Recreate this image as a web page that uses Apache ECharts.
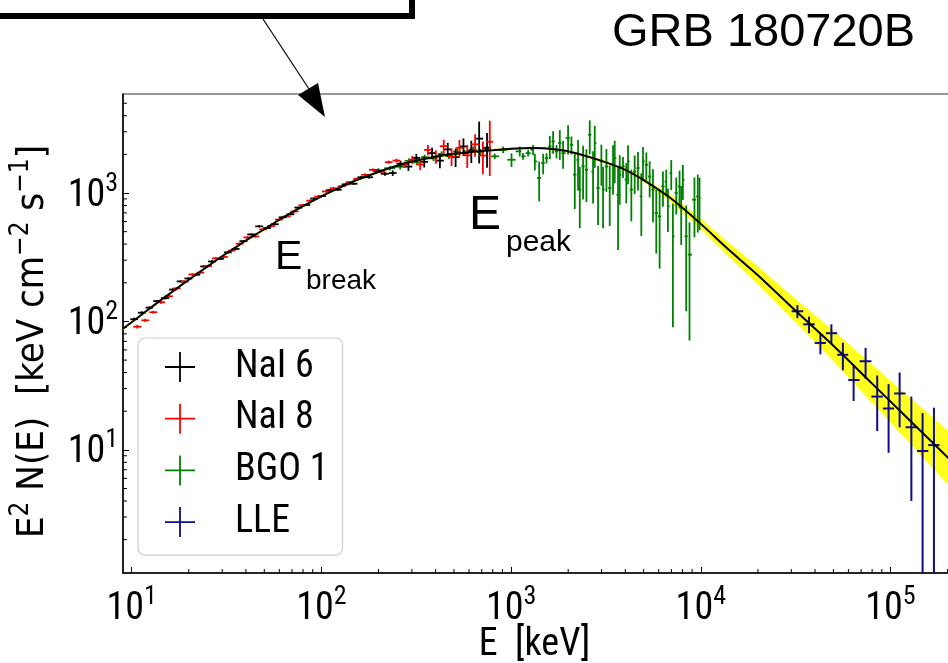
<!DOCTYPE html>
<html>
<head>
<meta charset="utf-8">
<script src="https://cdn.jsdelivr.net/npm/echarts@6.0.0/dist/echarts.min.js"></script>
<style>
  html, body { margin: 0; padding: 0; background: #ffffff; }
  #chart { width: 948px; height: 663px; }
</style>
</head>
<body>
<div id="chart"></div>
<script>
// ---- spectral data: E^2 N(E) [keV cm^-2 s^-1] versus E [keV] ----

// Axis bounds
const X_MIN = 9, X_MAX = 2.5e5;
const Y_MIN = 1.1, Y_MAX = 5900;

// Tick decades and minor-tick multipliers
const xDecades = [1, 10, 100, 1000, 10000, 100000];
const yDecades = [1, 10, 100, 1000];
const minorSteps = [2, 3, 4, 5, 6, 7, 8, 9];

// NaI 6
const nai6Energy = [10.3, 11.3, 12.4, 13.6, 15.0, 16.5, 18.1, 19.9, 21.9, 24.1, 26.5, 29.2, 32.1, 35.3, 38.8, 42.7,
  47.0, 51.7, 56.8, 62.5, 68.7, 75.6, 83.2, 91.5, 100.6, 110.6, 121.9, 134.3, 147.8, 162.4, 178.4, 196.3, 216.2,
  237.7, 261.2, 287.6, 316.6, 348.3, 383.1, 421.5, 463.6, 510, 560.9, 616.9, 678.7, 746.7];
const nai6Flux = [104, 117, 128, 144, 152, 177, 205, 216, 231, 268, 293, 307, 345, 367, 422, 476,
  550, 534, 571, 647, 683, 770, 807, 905, 946, 1052, 1061, 1168, 1181, 1326, 1327, 1488, 1411,
  1430, 1693, 1605, 1875, 1749, 2046, 1787, 2185, 1902, 2303, 2131, 2650, 2250];
const nai6Err = [3, 3, 3, 3, 4, 4, 4, 5, 5, 5, 6, 6, 7, 7, 8, 9,
  10, 10, 11, 12, 13, 14, 15, 17, 18, 20, 21, 23, 25, 28, 32, 38, 50,
  70, 90, 120, 140, 170, 200, 230, 270, 310, 360, 420, 950, 680];

// NaI 8
const nai8Energy = [10.7, 11.8, 13.0, 14.3, 15.7, 17.3, 19.0, 20.9, 23.0, 25.3, 27.8, 30.6, 33.7, 37.0, 40.7, 44.8,
  49.3, 54.2, 59.6, 65.6, 72.2, 79.4, 87.3, 96.0, 105.6, 116.3, 127.9, 140.4, 154.3, 169.8, 186.8, 205.8,
  226.3, 248.7, 273.8, 301.2, 331.7, 364.6, 401.1, 441.5, 485.5, 533.9, 587.3, 645.8, 710.2, 772.0];
const nai8Flux = [91, 102, 118, 141, 157, 181, 204, 232, 240, 270, 310, 318, 356, 403, 451, 459,
  521, 552, 621, 657, 719, 803, 872, 937, 1028, 1089, 1130, 1215, 1289, 1387, 1515, 1464,
  1738, 1789, 1657, 1815, 1666, 2165, 1919, 2316, 1924, 2246, 1966, 2393, 1958, 2507];
const nai8Err = [3, 3, 3, 4, 4, 4, 5, 5, 5, 6, 6, 7, 7, 8, 9, 9,
  10, 11, 12, 13, 14, 15, 17, 18, 20, 22, 24, 26, 29, 32, 36, 40,
  48, 60, 90, 130, 160, 200, 230, 280, 300, 340, 400, 480, 560, 1150];

// BGO 1
const bgoEnergy = [200, 230, 260, 290, 320, 350, 390, 430, 470, 520, 570, 630, 690, 750,
  820, 908, 1005, 1111, 1156, 1230, 1306, 1334, 1406, 1476, 1538, 1600, 1665, 1735, 1806, 1880,
  1997, 2080, 2166, 2254, 2302, 2396, 2495, 2598, 2704, 2760, 2873, 2992, 3054, 3180, 3311, 3446,
  3517, 3662, 3738, 3890, 4050, 4134, 4304, 4481, 4665, 4857, 4958, 5162, 5375, 5596, 5826, 6066,
  6316, 6575, 6710, 6985, 7128, 7421, 7726, 7883, 8044, 8374, 8719, 9259, 9641, 9848];
const bgoFlux = [1500, 1560, 1600, 1780, 1730, 1900, 1860, 2010, 1940, 2100, 2050, 2180, 2080, 2200,
  1930, 2170, 1815, 2110, 1930, 2045, 2170, 1760, 1310, 1710, 1870, 2305, 2520, 2110, 2450, 2045,
  2680, 2375, 1390, 1815, 1062, 1610, 1520, 2840, 1470, 2450, 1094, 1760, 1062, 1610, 1094, 1660,
  1870, 970, 1390, 1610, 1270, 1760, 1062, 1470, 1565, 942, 1760, 1660, 1345, 1062, 698, 658,
  1125, 1230, 787, 1430, 460, 1000, 1125, 764, 1270, 460, 331, 887, 942, 914];
const bgoErr = [60, 65, 75, 80, 80, 90, 90, 100, 100, 110, 110, 120, 120, 130,
  95, 130, 220, 190, 115, 120, 190, 260, 450, 310, 170, 470, 500, 250, 640, 500,
  690, 380, 640, 770, 530, 720, 670, 840, 640, 880, 530, 620, 530, 590, 540, 690,
  680, 610, 580, 300, 440, 590, 460, 490, 520, 480, 520, 410, 420, 470, 360, 400,
  345, 290, 290, 375, 370, 320, 365, 370, 385, 340, 260, 435, 450, 400];

// LLE
const lleEnergy = [32300, 37200, 42700, 48800, 56100, 63900, 73900, 85100, 97700, 111700, 128800, 147600, 169400];
const lleFlux = [120, 95, 68, 81, 55, 35, 49, 26, 21, 27.5, 15, 9.8, 10.9];
const lleErr = [14, 14, 12.5, 14, 13.4, 11, 13.3, 12, 11.5, 12.5, 11, 9.6, 10.4];

// Best-fit model and its 1-sigma band
const modelEnergy = [9, 10, 12, 14, 16, 18, 20, 25, 30, 35, 40, 50, 60, 70, 80, 90, 100, 120, 150, 200, 250, 300,
  400, 500, 600, 700, 800, 1000, 1300, 1700, 2200, 3000, 4000, 5000, 7000, 10000, 14000, 20000, 30000,
  50000, 80000, 120000, 200000, 300000];
const modelFlux = [87.7, 98.6, 121, 144, 166, 189, 211, 267, 322, 374, 427, 522, 619, 708, 791, 867, 942, 1072, 1245,
  1459, 1629, 1758, 1919, 2018, 2080, 2123, 2153, 2213, 2239, 2188, 2042, 1778, 1514, 1259, 902, 575, 363, 229, 130,
  64.6, 32.8, 18.3, 8.77, 4.9];
const bandLow = [85.7, 96.4, 118.2, 140.7, 162.2, 184.7, 206.2, 260.9, 314.7, 365.5, 417.3, 510.1, 604.9, 691.9, 773.0,
  847.3, 920.6, 1047.6, 1216.7, 1425.8, 1591.9, 1718.0, 1875.3, 1972.1, 2032.7, 2074.6, 2104.0, 2162.6, 2188.0,
  2138.2, 1995.5, 1737.5, 1469.3, 1210.7, 847.7, 524.4, 319.8, 194.9, 105.7, 49.0, 23.2, 12.23, 5.41, 2.82];
const bandHigh = [89.7, 100.9, 123.8, 147.4, 169.9, 193.4, 215.9, 273.2, 329.5, 382.7, 437.0, 534.2, 633.4, 724.5, 809.4,
  887.2, 963.9, 1097.0, 1274.0, 1493.0, 1667.0, 1799.0, 1963.7, 2065.0, 2128.5, 2172.4, 2203.2, 2264.6, 2291.2,
  2239.0, 2089.6, 1819.4, 1560.0, 1309.2, 959.8, 630.5, 412.0, 269.1, 159.9, 85.2, 46.3, 27.4, 14.2, 8.52];

// ---- helpers ----
const MPL_FONT = "'Roboto Condensed', 'DejaVu Sans Condensed', sans-serif";
const YNAME_FONT = "'DejaVu Sans Condensed', 'Roboto Condensed', sans-serif";
const ARIAL = "'Liberation Sans', Arial, sans-serif";

// Energy bin extents from the geometric midpoints between neighbouring channels
function binEdges(E) {
  return E.map(function (e, i) {
    const prev = i > 0 ? E[i - 1] : e * e / E[i + 1];
    const next = i < E.length - 1 ? E[i + 1] : e * e / E[i - 1];
    return [Math.sqrt(prev * e), Math.sqrt(e * next)];
  });
}
function crossData(E, F, Err) {
  const bins = binEdges(E);
  return E.map(function (e, i) { return [e, F[i], Err[i], bins[i][0], bins[i][1]]; });
}

function renderCross(lineWidth) {
  return function (params, api) {
    const e = api.value(0), f = api.value(1), err = api.value(2);
    const lo = Math.max(f - err, 1e-3);
    const pLo = api.coord([e, lo]);
    const pHi = api.coord([e, f + err]);
    const pL = api.coord([api.value(3), f]);
    const pR = api.coord([api.value(4), f]);
    const style = { stroke: api.visual('color'), lineWidth: lineWidth };
    return {
      type: 'group',
      children: [
        { type: 'line', shape: { x1: pLo[0], y1: pLo[1], x2: pHi[0], y2: pHi[1] }, style: style },
        { type: 'line', shape: { x1: pL[0], y1: pL[1], x2: pR[0], y2: pR[1] }, style: style }
      ]
    };
  };
}

function crossSeries(name, color, data, lw, z) {
  return {
    name: name, type: 'custom', coordinateSystem: 'cartesian2d',
    itemStyle: { color: color }, clip: true, z: z, silent: true,
    encode: { x: 0, y: 1 },
    renderItem: renderCross(lw), data: data
  };
}

// Minor log ticks (2..9 x 10^n) drawn inward from the axes
const xMinor = [];
xDecades.forEach(function (d) { minorSteps.forEach(function (k) { const v = k * d; if (v > X_MIN && v < X_MAX) xMinor.push([v, Y_MIN]); }); });
const yMinor = [];
yDecades.forEach(function (d) { minorSteps.forEach(function (k) { const v = k * d; if (v > Y_MIN && v < Y_MAX) yMinor.push([X_MIN, v]); }); });

function minorTickSeries(data, vertical) {
  return {
    type: 'custom', coordinateSystem: 'cartesian2d', silent: true, z: 6, clip: false,
    encode: { x: 0, y: 1 },
    renderItem: function (params, api) {
      const p = api.coord([api.value(0), api.value(1)]);
      const len = 4;
      const shape = vertical ? { x1: p[0], y1: p[1], x2: p[0], y2: p[1] - len }
                             : { x1: p[0], y1: p[1], x2: p[0] + len, y2: p[1] };
      return { type: 'line', shape: shape, style: { stroke: '#000', lineWidth: 1 } };
    },
    data: data
  };
}

const CROSS = 'path://M0,47H100V53H0Z M47,0H53V100H47Z';

function powLabel(v) {
  const n = Math.round(Math.log10(v));
  return '{b|10}{s|' + n + '}';
}
const tickRich = {
  b: { fontFamily: MPL_FONT, fontSize: 38, color: '#000', lineHeight: 44, verticalAlign: 'bottom' },
  s: { fontFamily: MPL_FONT, fontSize: 26, color: '#000', lineHeight: 44, verticalAlign: 'top' }
};

const chart = echarts.init(document.getElementById('chart'), null, { renderer: 'canvas' });

chart.setOption({
  animation: false,
  backgroundColor: '#ffffff',
  grid: {
    left: 123, top: 94, bottom: 90, right: -18,
    outerBoundsMode: 'none', containLabel: false,
    show: true, borderColor: '#333', borderWidth: 1.2, backgroundColor: 'transparent'
  },
  xAxis: {
    type: 'log', logBase: 10, min: X_MIN, max: X_MAX,
    name: 'E  [keV]', nameLocation: 'middle', nameGap: 52, nameMoveOverlap: false,
    nameTextStyle: { fontFamily: MPL_FONT, fontSize: 38, color: '#000', lineHeight: 40, padding: [0, 20, 0, 0] },
    axisLine: { show: true, lineStyle: { color: '#000', width: 1.5 } },
    axisTick: { show: true, inside: true, length: 6, lineStyle: { color: '#000', width: 1 } },
    axisLabel: { margin: 11, formatter: powLabel, rich: tickRich, showMinLabel: false, showMaxLabel: false },
    splitLine: { show: false }
  },
  yAxis: {
    type: 'log', logBase: 10, min: Y_MIN, max: Y_MAX,
    name: '{t|E}{s|2}{t| N(E)  [keV cm}{s|−2}{t| s}{s|−1}{t|]}',
    nameLocation: 'middle', nameGap: 71,
    nameTextStyle: {
      padding: [0, 16, 0, 0],
      rich: {
        t: { fontFamily: YNAME_FONT, fontSize: 38, color: '#000', lineHeight: 44, verticalAlign: 'bottom' },
        s: { fontFamily: YNAME_FONT, fontSize: 26, color: '#000', lineHeight: 44, verticalAlign: 'top' }
      }
    },
    axisLine: { show: true, lineStyle: { color: '#000', width: 1.5 } },
    axisTick: { show: true, inside: true, length: 6, lineStyle: { color: '#000', width: 1 } },
    axisLabel: { margin: 5, formatter: powLabel, rich: tickRich, showMinLabel: false, showMaxLabel: false },
    splitLine: { show: false }
  },
  legend: {
    orient: 'vertical', left: 138, top: 338,
    padding: [10, 14, 14, 27], itemGap: 13.7, itemWidth: 30, itemHeight: 34,
    backgroundColor: 'rgba(255,255,255,0.8)', borderColor: '#cccccc', borderWidth: 1.2, borderRadius: 7,
    textStyle: { fontFamily: MPL_FONT, fontSize: 38, color: '#000', lineHeight: 38, width: 92, padding: [0, 0, 0, 35] },
    data: [
      { name: 'NaI 6', icon: CROSS },
      { name: 'NaI 8', icon: CROSS },
      { name: 'BGO 1', icon: CROSS },
      { name: 'LLE', icon: CROSS }
    ]
  },
  series: [
    {
      type: 'custom', coordinateSystem: 'cartesian2d', silent: true, clip: true, z: 1,
      encode: { x: 0, y: 1 },
      renderItem: function (params, api) {
        if (params.dataIndex !== 0) return null;
        const pts = [];
        for (let i = 0; i < modelEnergy.length; i++) pts.push(api.coord([modelEnergy[i], bandHigh[i]]));
        for (let i = modelEnergy.length - 1; i >= 0; i--) pts.push(api.coord([modelEnergy[i], bandLow[i]]));
        return { type: 'polygon', shape: { points: pts }, style: { fill: '#ffff1f', stroke: null } };
      },
      data: modelEnergy.map(function (e, i) { return [e, modelFlux[i]]; })
    },
    crossSeries('NaI 6', '#000000', crossData(nai6Energy, nai6Flux, nai6Err), 1.8, 3),
    crossSeries('NaI 8', '#ff0000', crossData(nai8Energy, nai8Flux, nai8Err), 1.8, 3),
    crossSeries('BGO 1', '#008000', crossData(bgoEnergy, bgoFlux, bgoErr), 1.8, 2),
    crossSeries('LLE', '#0c0c8c', crossData(lleEnergy, lleFlux, lleErr), 2, 3),
    {
      type: 'line', silent: true, z: 4, smooth: 0.3, showSymbol: false, symbol: 'none',
      lineStyle: { color: '#000', width: 2 },
      data: modelEnergy.map(function (e, i) { return [e, modelFlux[i]]; })
    },
    minorTickSeries(xMinor, true),
    minorTickSeries(yMinor, false)
  ],
  graphic: [
    { type: 'rect', z: 20, shape: { x: -20, y: -20, width: 432, height: 36 }, style: { fill: '#ffffff', stroke: '#000', lineWidth: 6 } },
    { type: 'line', z: 20, shape: { x1: 263, y1: 19, x2: 309, y2: 89 }, style: { stroke: '#000', lineWidth: 1.2 } },
    { type: 'polygon', z: 20, shape: { points: [[325, 117], [298, 95], [318, 83]] }, style: { fill: '#000' } },
    { type: 'text', z: 20, x: 612, y: 33, style: { text: 'GRB 180720B', font: '47px ' + ARIAL, fill: '#000', verticalAlign: 'middle', textVerticalAlign: 'middle' } },
    { type: 'text', z: 20, x: 275, y: 258, style: { text: 'E', font: '41px ' + ARIAL, fill: '#000', verticalAlign: 'middle', textVerticalAlign: 'middle' } },
    { type: 'text', z: 20, x: 306, y: 281, style: { text: 'break', font: '28px ' + ARIAL, fill: '#000', verticalAlign: 'middle', textVerticalAlign: 'middle' } },
    { type: 'text', z: 20, x: 469, y: 216, style: { text: 'E', font: '48px ' + ARIAL, fill: '#000', verticalAlign: 'middle', textVerticalAlign: 'middle' } },
    { type: 'text', z: 20, x: 506, y: 243, style: { text: 'peak', font: '30px ' + ARIAL, fill: '#000', verticalAlign: 'middle', textVerticalAlign: 'middle' } }
  ]
});
</script>
</body>
</html>
